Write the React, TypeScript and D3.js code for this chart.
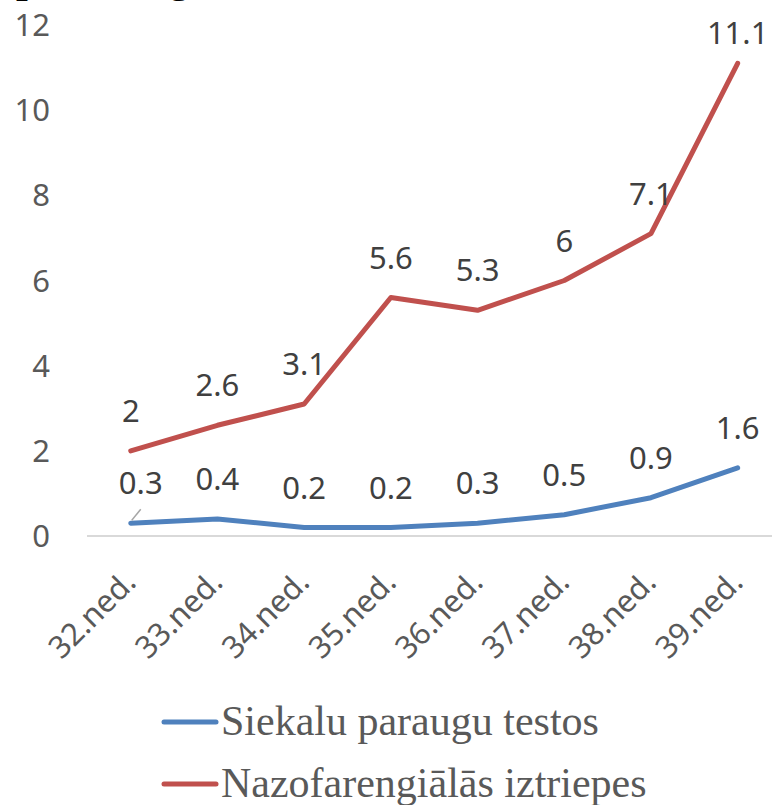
import { useEffect, useRef } from "react";
import { select, scaleBand, scaleLinear, line, curveLinear } from "d3";

// categories and series
const weeks = ["32.ned.", "33.ned.", "34.ned.", "35.ned.", "36.ned.", "37.ned.", "38.ned.", "39.ned."];
const saliva = [0.3, 0.4, 0.2, 0.2, 0.3, 0.5, 0.9, 1.6];
const nasal = [2, 2.6, 3.1, 5.6, 5.3, 6, 7.1, 11.1];
const yTicks = [0, 2, 4, 6, 8, 10, 12];
const seriesNames = ["Siekalu paraugu testos", "Nazofarengiālās iztriepes"];
const titleText = "pozitīvo gadu";

const W = 772;
const H = 805;

export default function App() {
  const svgRef = useRef<SVGSVGElement | null>(null);

  useEffect(() => {
    if (!svgRef.current) return;
    const svg = select(svgRef.current);
    svg.selectAll("*").remove();

    const sans = "'Noto Sans', 'Open Sans', sans-serif";
    const serif = "'Liberation Serif', 'Times New Roman', serif";

    const x = scaleBand().domain(weeks).range([87.4, 781]);
    const cx = (w: string) => (x(w) as number) + x.bandwidth() / 2;
    const y = scaleLinear().domain([0, 12]).range([536, 25]);

    // title, cut off at the top edge like in the source
    svg
      .append("text")
      .attr("x", 16)
      .attr("y", -8)
      .attr("font-family", serif)
      .attr("font-weight", "bold")
      .attr("font-size", 42)
      .attr("fill", "#000")
      .text(titleText);

    // y tick labels
    svg
      .append("g")
      .selectAll("text")
      .data(yTicks)
      .enter()
      .append("text")
      .attr("x", 50)
      .attr("y", (d) => y(d))
      .attr("dy", "0.36em")
      .attr("text-anchor", "end")
      .attr("font-family", sans)
      .attr("font-size", 31)
      .attr("fill", "#595959")
      .text((d) => d);

    // baseline
    svg
      .append("line")
      .attr("x1", 87)
      .attr("x2", W)
      .attr("y1", y(0))
      .attr("y2", y(0))
      .attr("stroke", "#d9d9d9")
      .attr("stroke-width", 2);

    // x tick labels, rotated
    svg
      .append("g")
      .selectAll("text")
      .data(weeks)
      .enter()
      .append("text")
      .attr("transform", (d) => `translate(${cx(d) + 7},${584}) rotate(-45)`)
      .attr("text-anchor", "end")
      .attr("font-family", sans)
      .attr("font-size", 31)
      .attr("fill", "#595959")
      .text((d) => d);

    const lineGen = line<number>()
      .x((_, i) => cx(weeks[i]))
      .y((d) => y(d))
      .curve(curveLinear);

    const series = [
      { values: saliva, color: "#4f81bd" },
      { values: nasal, color: "#c0504d" },
    ];

    series.forEach((s) => {
      svg
        .append("path")
        .datum(s.values)
        .attr("fill", "none")
        .attr("stroke", s.color)
        .attr("stroke-width", 5)
        .attr("stroke-linejoin", "round")
        .attr("stroke-linecap", "round")
        .attr("d", lineGen as any);
    });

    // leader line for the moved first label of the blue series
    svg
      .append("line")
      .attr("x1", cx(weeks[0]) + 1)
      .attr("y1", y(saliva[0]) - 3)
      .attr("x2", cx(weeks[0]) + 10)
      .attr("y2", y(saliva[0]) - 14)
      .attr("stroke", "#a6a6a6")
      .attr("stroke-width", 1.5);

    // data labels
    series.forEach((s, si) => {
      svg
        .append("g")
        .selectAll("text")
        .data(s.values)
        .enter()
        .append("text")
        .attr("x", (_, i) => cx(weeks[i]) + (si === 0 && i === 0 ? 10 : 0))
        .attr("y", (d) => Math.max(y(d) - 40, 33))
        .attr("dy", "0.36em")
        .attr("text-anchor", "middle")
        .attr("font-family", sans)
        .attr("font-size", 31)
        .attr("fill", "#404040")
        .text((d) => d);
    });

    // legend
    const legend = svg.append("g");
    series.forEach((s, i) => {
      const ly = 722 + i * 62;
      legend
        .append("line")
        .attr("x1", 164)
        .attr("x2", 216)
        .attr("y1", ly)
        .attr("y2", ly)
        .attr("stroke", s.color)
        .attr("stroke-width", 5)
        .attr("stroke-linecap", "round");
      legend
        .append("text")
        .attr("x", 221)
        .attr("y", ly + 13)
        .attr("font-family", serif)
        .attr("font-size", 42)
        .attr("fill", "#595959")
        .text(seriesNames[i]);
    });
  }, []);

  return (
    <svg
      ref={svgRef}
      width={W}
      height={H}
      style={{ position: "absolute", left: 0, top: 0, background: "#fff" }}
    ></svg>
  );
}
